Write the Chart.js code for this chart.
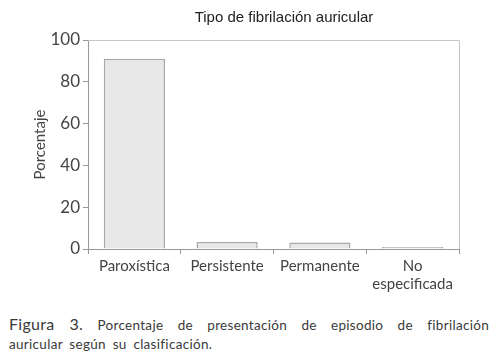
<!DOCTYPE html>
<html>
<head>
<meta charset="utf-8">
<script src="https://cdn.jsdelivr.net/npm/chart.js@4"></script>
<style>
  body { margin: 0; background: #fff; width: 494px; height: 360px; position: relative; overflow: hidden; }
  #wrap { position: absolute; left: 0; top: 0; width: 494px; height: 300px; }
  #title { position: absolute; top: 8px; left: 174px; width: 220px; text-align: center;
           font-family: "Liberation Sans", Arial, sans-serif; font-size: 15px; color: #222; }
  #caption { position: absolute; left: 9px; top: 314px; width: 480px; font-family: Lato, sans-serif;
             font-size: 13.5px; color: #3a3a3a; line-height: 19px; text-align: justify; text-align-last: left; letter-spacing: 0.3px; word-spacing: 3px; }
  #caption b { font-weight: normal; font-size: 16px; }
</style>
</head>
<body>
<div id="wrap"><canvas id="chart1"></canvas></div>
<div id="title">Tipo de fibrilación auricular</div>
<div id="caption"><b>Figura 3.</b> Porcentaje de presentación de episodio de fibrilación auricular según su clasificación.</div>
<script>
const categories = ['Paroxística', 'Persistente', 'Permanente', ['No', 'especificada']];
const porcentaje = [91, 3.3, 3.1, 1];
const yTicks = [0, 20, 40, 60, 80, 100];

// top and right frame lines
const frame = {
    id: 'frame',
    afterDraw(chart) {
        const a = chart.chartArea, c = chart.ctx;
        c.save();
        c.strokeStyle = '#c4c4c4';
        c.lineWidth = 1;
        c.beginPath();
        c.moveTo(a.left, a.top + 0.5);
        c.lineTo(a.right + 0.5, a.top + 0.5);
        c.lineTo(a.right + 0.5, a.bottom);
        c.stroke();
        c.restore();
    }
};

const ctx1 = document.getElementById('chart1').getContext('2d');
const chart1 = new Chart(ctx1, {
    type: 'bar',
    data: {
        labels: categories,
        datasets: [{
            data: porcentaje,
            backgroundColor: '#e8e8e8',
            borderColor: '#a8a8a8',
            borderWidth: 1.5,
            barPercentage: 0.66,
            categoryPercentage: 1
        }]
    },
    options: {
        responsive: true,
        maintainAspectRatio: false,
        animation: false,
        layout: { padding: { left: 31, right: 35, top: 40, bottom: 0 } },
        plugins: { legend: { display: false }, tooltip: { enabled: false } },
        scales: {
            x: {
                grid: { drawOnChartArea: false, tickLength: 5, color: '#999' },
                border: { color: '#999' },
                ticks: { color: '#444', font: { family: 'Lato', size: 15 }, maxRotation: 0, padding: 3 },
                afterFit(s) { s.height = 51; }
            },
            y: {
                min: 0, max: 100,
                afterBuildTicks(s) { s.ticks = yTicks.map(v => ({ value: v })); },
                grid: { drawOnChartArea: false, tickLength: 5, color: '#999' },
                border: { color: '#999' },
                ticks: { color: '#444', font: { family: 'Lato', size: 17 }, padding: 3 },
                title: { display: true, text: 'Porcentaje', color: '#444', font: { family: 'Lato', size: 15 }, padding: { top: 0, bottom: 4 } },
                afterFit(s) { s.width = 57; }
            }
        }
    },
    plugins: [frame]
});
</script>
</body>
</html>
